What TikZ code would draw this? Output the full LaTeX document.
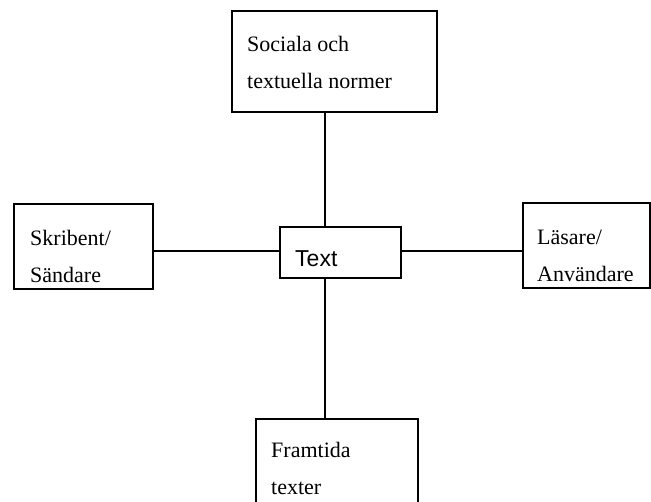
\documentclass[tikz,border=0pt]{standalone}
\usepackage{fontspec}
\setmainfont{Liberation Serif}
\newfontfamily\labelsans{Liberation Sans}
\usetikzlibrary{positioning}
\tikzset{
  % Frame around each part of the model
  frame/.style={
    draw=black,
    line width=2pt,
    rectangle,
    inner sep=0pt
  },
  % Text written in a frame (placed by the baseline of its last line)
  frametext/.style={
    anchor=base west,
    align=left,
    inner sep=0pt,
    font=\fontsize{22}{37}\selectfont
  },
  % Text of the centre frame
  hubtext/.style={
    anchor=base west,
    inner sep=0pt,
    font=\labelsans\fontsize{23}{28}\selectfont
  },
  % Line between frames
  link/.style={
    draw=black,
    line width=1.5pt
  }
}

\begin{document}
\begin{tikzpicture}[x=1pt, y=-1pt]
  \clip (0,0) rectangle (651,501);
  % Frames
  \node[frame, minimum width=205pt, minimum height=101pt] (norms) at (334.5,61.5) {};
  \node[frame, minimum width=139pt, minimum height=85pt] (writer) at (83.5,246.5) {};
  \node[frame, minimum width=121pt, minimum height=51pt] (text) at (340.5,252.5) {};
  \node[frame, minimum width=127pt, minimum height=85pt] (reader) at (586.5,245.5) {};
  \node[frame, minimum width=162pt, minimum height=92pt] (future) at (337,465) {};
  % Axis of the cross
  \coordinate (hub) at (325,251);
  \draw[link] (norms.south -| hub) -- (text.north -| hub);
  \draw[link] (text.south -| hub) -- (future.north -| hub);
  \draw[link] (writer.east |- hub) -- (text.west |- hub);
  \draw[link] (text.east |- hub) -- (reader.west |- hub);
  % Texts
  \node[frametext] (normslabel) at (247,88) {Sociala och\\textuella normer};
  \node[frametext] (writerlabel) at (30,282) {Skribent/\\Sändare};
  \node[hubtext] (textlabel) at (295,266) {Text};
  \node[frametext] (readerlabel) at (537,281) {Läsare/\\Användare};
  \node[frametext] (futurelabel) at (271,494) {Framtida\\texter};
\end{tikzpicture}
\end{document}
